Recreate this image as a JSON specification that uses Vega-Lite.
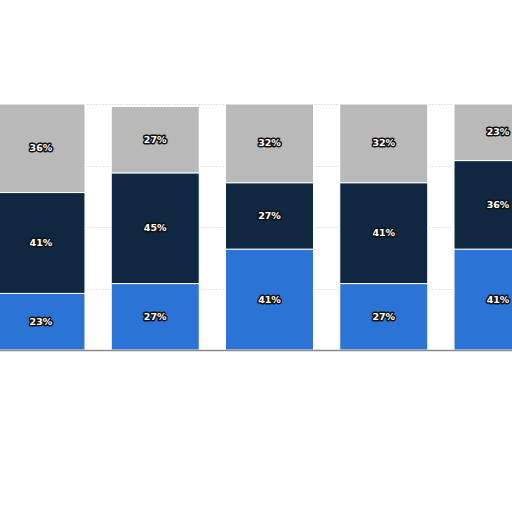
{
  "$schema": "https://vega.github.io/schema/vega-lite/v6.json",
  "autosize": "none",
  "padding": {"left": -3, "top": 104, "right": 0, "bottom": 162},
  "width": 545,
  "height": 246,
  "background": "#ffffff",
  "config": {"view": {"stroke": null}},
  "data": {
    "values": [
      {"group": "G1", "segment": "C", "rank": 1, "value": 23},
      {"group": "G1", "segment": "B", "rank": 2, "value": 41},
      {"group": "G1", "segment": "A", "rank": 3, "value": 36},
      {"group": "G2", "segment": "C", "rank": 1, "value": 27},
      {"group": "G2", "segment": "B", "rank": 2, "value": 45},
      {"group": "G2", "segment": "A", "rank": 3, "value": 27},
      {"group": "G3", "segment": "C", "rank": 1, "value": 41},
      {"group": "G3", "segment": "B", "rank": 2, "value": 27},
      {"group": "G3", "segment": "A", "rank": 3, "value": 32},
      {"group": "G4", "segment": "C", "rank": 1, "value": 27},
      {"group": "G4", "segment": "B", "rank": 2, "value": 41},
      {"group": "G4", "segment": "A", "rank": 3, "value": 32},
      {"group": "G5", "segment": "C", "rank": 1, "value": 41},
      {"group": "G5", "segment": "B", "rank": 2, "value": 36},
      {"group": "G5", "segment": "A", "rank": 3, "value": 23}
    ]
  },
  "transform": [
    {"stack": "value", "groupby": ["group"], "sort": [{"field": "rank"}], "as": ["v0", "v1"]},
    {"calculate": "(datum.v0 + datum.v1) / 2", "as": "mid"},
    {"calculate": "datum.value + '%'", "as": "label"}
  ],
  "encoding": {
    "x": {
      "field": "group",
      "type": "nominal",
      "scale": {"paddingInner": 0.23, "paddingOuter": 0},
      "axis": {"labels": false, "ticks": false, "title": null, "domainColor": "#8c8c8c", "domainWidth": 1.5, "zindex": 1}
    }
  },
  "layer": [
    {
      "mark": {"type": "bar", "stroke": "#ffffff", "strokeWidth": 1},
      "encoding": {
        "y": {
          "field": "v0",
          "type": "quantitative",
          "scale": {"domain": [0, 100]},
          "axis": {"labels": false, "ticks": false, "domain": false, "title": null, "values": [25, 50, 75, 100], "gridColor": "#c8c8c8", "gridDash": [1, 2]}
        },
        "y2": {"field": "v1"},
        "color": {
          "field": "segment",
          "type": "nominal",
          "scale": {"domain": ["A", "B", "C"], "range": ["#b9b9b9", "#0f2740", "#2b74d6"]},
          "legend": null
        }
      }
    },
    {
      "mark": {"type": "text", "font": "DejaVu Sans", "fontWeight": "bold", "fontSize": 9.5, "fill": "#111111", "stroke": "#111111", "strokeWidth": 3, "strokeJoin": "round"},
      "encoding": {
        "y": {"field": "mid", "type": "quantitative"},
        "text": {"field": "label"}
      }
    },
    {
      "mark": {"type": "text", "font": "DejaVu Sans", "fontWeight": "bold", "fontSize": 9.5, "fill": "#ffffff"},
      "encoding": {
        "y": {"field": "mid", "type": "quantitative"},
        "text": {"field": "label"}
      }
    }
  ]
}
